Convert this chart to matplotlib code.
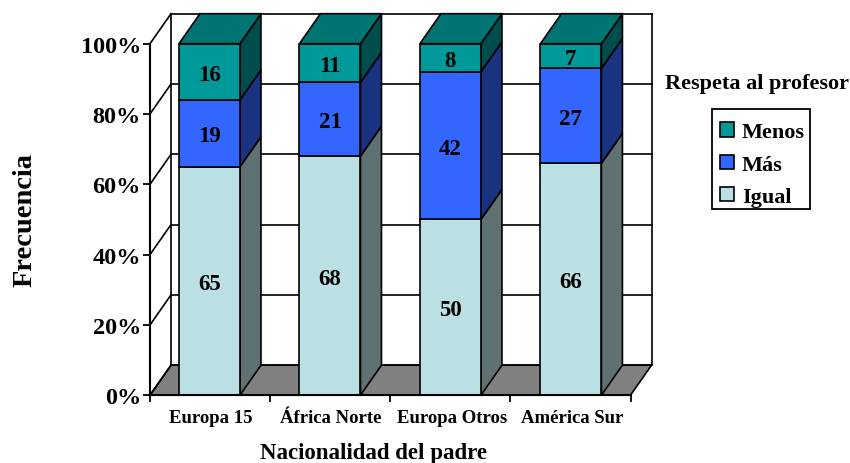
import matplotlib
matplotlib.use('Agg')
import matplotlib.pyplot as plt
from matplotlib.patches import Polygon, Patch, Rectangle

plt.rcParams['font.family'] = ['Liberation Serif', 'DejaVu Serif']
plt.rcParams['font.weight'] = 'bold'

# datos
categorias = ['Europa 15', 'África Norte', 'Europa Otros', 'América Sur']
igual = [65, 68, 50, 66]
mas = [19, 21, 42, 27]
menos = [16, 11, 8, 7]
series = ['Igual', 'Más', 'Menos']
ticks_y = [0, 20, 40, 60, 80, 100]

colores = {'Igual': '#BAE0E3', 'Más': '#3366FF', 'Menos': '#009999'}
laterales = {'Igual': '#5F7173', 'Más': '#1A3380', 'Menos': '#004D4D'}
color_techo = '#007373'
W, H = 850, 464

fig = plt.figure(figsize=(W / 100, H / 100), dpi=100)
ax = fig.add_axes([150 / W, (H - 396.2) / H, 480.5 / W, 351.5 / H])
ax.set_xlim(0, 4)
ax.set_ylim(0, 100)
ax.patch.set_visible(False)

# profundidad 3D en unidades de datos
dx = 21 / 120.1
dy = 30 / 3.515
ancho = 61 / 120.1
lw = 1.2

# suelo y paredes
ax.add_patch(Polygon([(0, 0), (4, 0), (4 + dx, dy), (dx, dy)], fc='#808080', ec='black',
                     lw=lw, clip_on=False, zorder=1))
for t in ticks_y:
    ax.plot([0, dx], [t, t + dy], color='black', lw=lw, clip_on=False, zorder=1)
    ax.plot([dx, 4 + dx], [t + dy, t + dy], color='black', lw=lw, clip_on=False, zorder=1)
ax.plot([dx, dx], [dy, 100 + dy], color='black', lw=lw, clip_on=False, zorder=1)
ax.plot([4 + dx, 4 + dx], [dy, 100 + dy], color='black', lw=lw, clip_on=False, zorder=1)

# barras apiladas
for i, cat in enumerate(categorias):
    centro = 0.495 + i * 1.003
    x0 = centro - ancho / 2
    x1 = x0 + ancho
    base = 0
    for nombre, vals in zip(series, [igual, mas, menos]):
        v = vals[i]
        tope = base + v
        ax.add_patch(Polygon([(x1, base), (x1 + dx, base + dy), (x1 + dx, tope + dy), (x1, tope)],
                             fc=laterales[nombre], ec='black', lw=lw, clip_on=False, zorder=3))
        ax.add_patch(Polygon([(x0, base), (x1, base), (x1, tope), (x0, tope)],
                             fc=colores[nombre], ec='black', lw=lw, clip_on=False, zorder=4))
        ax.text(centro, base + v / 2, str(v), ha='center', va='center_baseline', fontsize=16.5,
                fontweight='bold', color='black', zorder=5)
        base = tope
    ax.add_patch(Polygon([(x0, 100), (x1, 100), (x1 + dx, 100 + dy), (x0 + dx, 100 + dy)],
                         fc=color_techo, ec='black', lw=lw, clip_on=False, zorder=4))

# ejes
for s in ['top', 'right']:
    ax.spines[s].set_visible(False)
for s in ['left', 'bottom']:
    ax.spines[s].set_linewidth(1.5)
    ax.spines[s].set_zorder(6)
ax.set_yticks(ticks_y)
ax.set_yticklabels([f'{t}%' for t in ticks_y], fontsize=17.5, fontweight='bold')
ax.set_xticks(range(5))
ax.set_xticklabels([])
ax.set_xticks([0.505 + i * 1.003 for i in range(4)], minor=True)
ax.set_xticklabels(categorias, minor=True, fontsize=13.5, fontweight='bold')
ax.tick_params(axis='x', which='minor', length=0, pad=10)
ax.tick_params(axis='x', which='major', length=5, width=1.3)
ax.tick_params(axis='y', length=5, width=1.3, pad=1.5)

fig.text(25 / W, 1 - 220 / H, 'Frecuencia', rotation=90, ha='center', va='center',
         fontsize=20.5, fontweight='bold')
fig.text(373.5 / W, 1 - 459 / H, 'Nacionalidad del padre', ha='center', va='baseline',
         fontsize=16.5, fontweight='bold')
fig.text(757 / W, 1 - 84 / H, 'Respeta al profesor', ha='center', va='center',
         fontsize=16, fontweight='bold')

# leyenda: marco aparte para ajustar el relleno
fig.add_artist(Rectangle((712 / W, 1 - 210 / H), 98 / W, 100 / H, transform=fig.transFigure,
                         fc='white', ec='black', lw=1.3, zorder=2))
handles = [Patch(fc=colores[n], ec='black', lw=1.2, label=n) for n in ['Menos', 'Más', 'Igual']]
fig.legend(handles=handles, loc='upper left', bbox_to_anchor=(712 / W, 1 - 115 / H),
           fontsize=16, frameon=False,
           handlelength=0.62, handleheight=0.62, handletextpad=0.35, labelspacing=0.55,
           borderpad=0.38, borderaxespad=0).set_zorder(3)

fig.savefig('out.png', dpi=100)
